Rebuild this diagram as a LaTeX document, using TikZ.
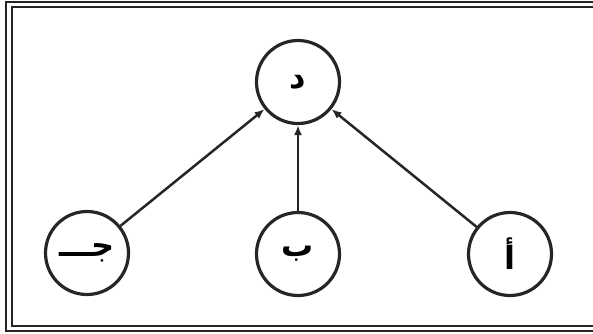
\documentclass[tikz,border=0pt]{standalone}
\usepackage{fontspec}
\newfontfamily\arabicfont[Script=Arabic,BoldFont={DejaVu Sans Bold}]{DejaVu Sans}
\TeXXeTstate=1
\usetikzlibrary{arrows.meta}
\begin{document}
\begin{tikzpicture}[x=1pt,y=-1pt,
  letter/.style={circle,draw=black!85,line width=3.2pt,minimum size=83pt,inner sep=0pt,
    font=\arabicfont\bfseries\fontsize{32}{36}\selectfont},
  link/.style={line width=2.5pt,draw=black!85,-{Latex[length=10pt,width=8pt]}},
  frameline/.style={draw=black!85}]
\useasboundingbox (0,0) rectangle (593,333);
% frame (right side lies outside the picture)
\draw[frameline,line width=2.2pt] (600,2) -- (6,2) -- (6,331) -- (600,331);
\draw[frameline,line width=1.8pt] (600,7) -- (12,7) -- (12,326) -- (600,326);
% nodes
\node[letter] (d) at (298,82) {\beginR د\endR};
\node[letter] (j) at (87,253) {\beginR جـــ\endR};
\node[letter] (b) at (298,254) {\beginR ب\endR};
\node[letter] (a) at (510,254) {\beginR أ\endR};
% connectors
\draw[link] (j) -- (d);
\draw[link] (b) -- (d);
\draw[link] (a) -- (d);
\end{tikzpicture}
\end{document}
